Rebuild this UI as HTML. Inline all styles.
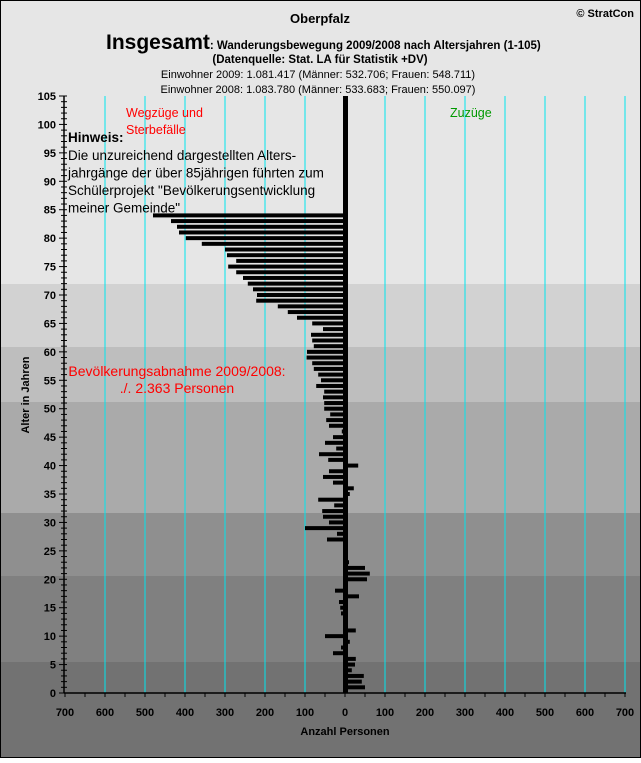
<!DOCTYPE html>
<html><head><meta charset="utf-8"><style>
body{margin:0;width:641px;height:758px;overflow:hidden;font-family:"Liberation Sans",sans-serif}
svg text{font-family:"Liberation Sans",sans-serif}
</style></head><body>
<svg id="chart" width="641" height="758" xmlns="http://www.w3.org/2000/svg">
<g id="bg"></g>
<g id="grid"></g>
<g id="bars"></g>
<g id="axes"></g>
<text x="320" y="23" text-anchor="middle" font-size="13" font-weight="bold">Oberpfalz</text>
<text x="634" y="17" text-anchor="end" font-size="11" font-weight="bold">© StratCon</text>
<text x="106" y="49" font-size="21" font-weight="bold">Insgesamt<tspan font-size="11.5" dx="0">: Wanderungsbewegung 2009/2008 nach Altersjahren (1-105)</tspan></text>
<text x="320" y="63" text-anchor="middle" font-size="11.5" font-weight="bold">(Datenquelle: Stat. LA für Statistik +DV)</text>
<text x="318" y="78" text-anchor="middle" font-size="11">Einwohner 2009: 1.081.417 (Männer: 532.706; Frauen: 548.711)</text>
<text x="318" y="93" text-anchor="middle" font-size="11">Einwohner 2008: 1.083.780 (Männer: 533.683; Frauen: 550.097)</text>
<text x="126" y="117" font-size="12.5" fill="#ff0000">Wegzüge und</text>
<text x="126" y="134" font-size="12.5" fill="#ff0000">Sterbefälle</text>
<text x="450" y="117" font-size="12.5" fill="#009900">Zuzüge</text>
<text x="68" y="142" font-size="13.5" font-weight="bold">Hinweis:</text>
<g font-size="13.5">
<text x="68" y="160">Die unzureichend dargestellten Alters-</text>
<text x="68" y="177.5">jahrgänge der über 85jährigen führten zum</text>
<text x="68" y="195">Schülerprojekt "Bevölkerungsentwicklung</text>
<text x="68" y="212.5">meiner Gemeinde"</text>
</g>
<text x="177" y="376" text-anchor="middle" font-size="14" fill="#ff0000">Bevölkerungsabnahme 2009/2008:</text>
<text x="177" y="393" text-anchor="middle" font-size="14" fill="#ff0000">./. 2.363 Personen</text>
<text x="345" y="735" text-anchor="middle" font-size="11" font-weight="bold">Anzahl Personen</text>
<text transform="translate(29,395) rotate(-90)" text-anchor="middle" font-size="11" font-weight="bold">Alter in Jahren</text>
<rect x="0.5" y="0.5" width="640" height="757" fill="none" stroke="#000"/>
</svg>
<script>
const ages = [0,1,2,3,4,5,6,7,8,9,10,11,12,13,14,15,16,17,18,19,20,21,22,23,24,25,26,27,28,29,30,31,32,33,34,35,36,37,38,39,40,41,42,43,44,45,46,47,48,49,50,51,52,53,54,55,56,57,58,59,60,61,62,63,64,65,66,67,68,69,70,71,72,73,74,75,76,77,78,79,80,81,82,83,84];
const values = [0,50,42,47,17,25,27,-30,-10,12,-50,27,0,0,-10,-12,-15,35,-25,0,55,62,50,10,0,0,0,-45,-20,-100,-40,-55,-57,-27,-67,12,22,-30,-55,-40,33,-42,-65,-22,-50,-30,-8,-40,-47,-37,-52,-52,-55,-52,-72,-60,-67,-78,-82,-96,-95,-78,-82,-85,-55,-82,-120,-143,-168,-222,-220,-230,-243,-255,-272,-292,-272,-295,-300,-358,-398,-415,-420,-435,-480];
const xTicks = [-700,-600,-500,-400,-300,-200,-100,0,100,200,300,400,500,600,700];
const yTicks = [0,5,10,15,20,25,30,35,40,45,50,55,60,65,70,75,80,85,90,95,100,105];
const NS='http://www.w3.org/2000/svg';
const X0=345,XS=0.4,Y0=693,YS=597/105;
const xPos=v=>X0+v*XS, yPos=a=>Y0-a*YS;
function mk(tag,attrs,parent){const e=document.createElementNS(NS,tag);for(const k in attrs)e.setAttribute(k,attrs[k]);document.getElementById(parent).appendChild(e);return e;}
const bands=[[0,284,'#e6e6e6'],[284,347,'#d2d2d2'],[347,402,'#bebebe'],[402,513,'#aaaaaa'],[513,576,'#8f8f8f'],[576,662,'#808080'],[662,758,'#727272']];
bands.forEach(b=>{const r=mk('rect',{x:0,y:b[0],width:641,height:b[1]-b[0],fill:b[2]},'bg');

});
xTicks.forEach(t=>{if(t===-700||t===0)return;const l=mk('line',{x1:xPos(t),x2:xPos(t),y1:yPos(105),y2:Y0,stroke:'#00e5ee','stroke-width':1},'grid');

});
ages.forEach((a,i)=>{const v=values[i];if(!v)return;const x=Math.min(xPos(0),xPos(v));const r=mk('rect',{x:x,y:yPos(a)-2,width:Math.abs(v)*XS,height:4,fill:'#000'},'bars');

});
const c=mk('rect',{x:xPos(0)-2,y:yPos(105),width:5,height:Y0-yPos(105),fill:'#000'},'bars');


const ya=mk('line',{x1:64,x2:64,y1:yPos(105),y2:Y0,stroke:'#000','stroke-width':1.5},'axes');


const xa=mk('line',{x1:64,x2:626,y1:Y0,y2:Y0,stroke:'#000','stroke-width':1.5},'axes');


for(let a=0;a<=105;a++){const y=yPos(a);mk('line',{x1:a%5?61:59,x2:67,y1:y,y2:y,stroke:'#000'},'axes');}
yTicks.forEach(t=>{const tx=mk('text',{x:56,y:yPos(t)+4,'text-anchor':'end','font-size':11,'font-weight':'bold'},'axes');tx.textContent=t;

});
for(let v=-700;v<=700;v+=50){mk('line',{x1:xPos(v),x2:xPos(v),y1:Y0,y2:Y0+4,stroke:'#000'},'axes');}
xTicks.forEach(t=>{const tx=mk('text',{x:xPos(t),y:716,'text-anchor':'middle','font-size':11,'font-weight':'bold'},'axes');tx.textContent=Math.abs(t);

});
</script>
</body></html>
